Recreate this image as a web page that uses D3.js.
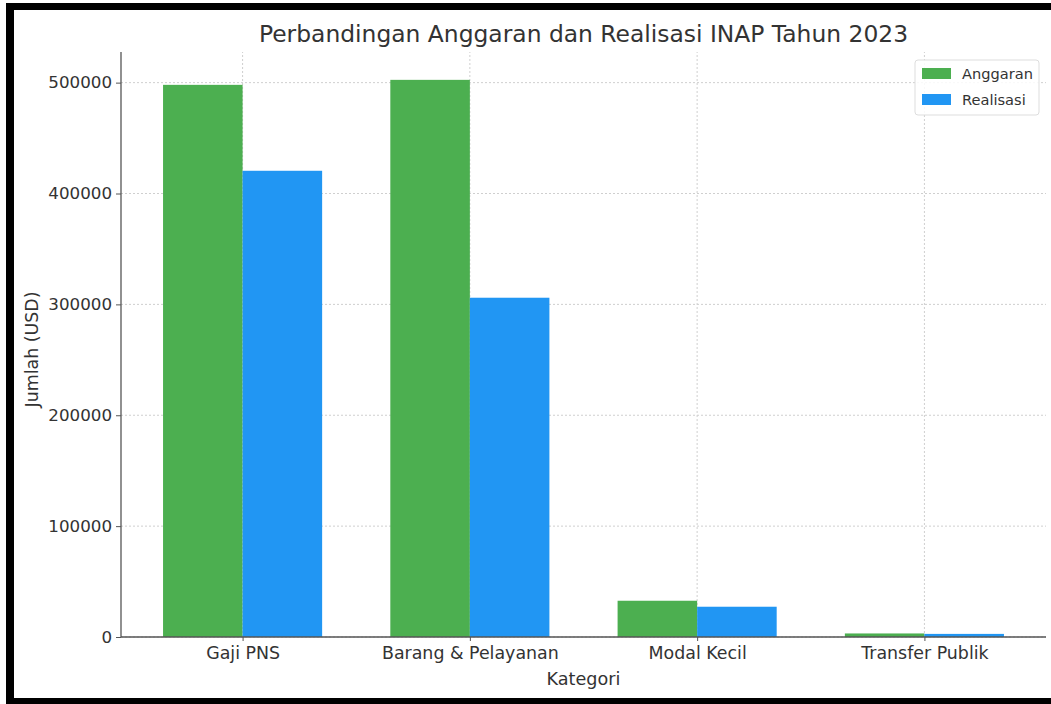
<!DOCTYPE html>
<html>
<head>
<meta charset="utf-8">
<script src="https://cdn.jsdelivr.net/npm/d3@7"></script>
<style>
  html, body { margin: 0; padding: 0; background: #fff; }
  svg { display: block; font-family: "DejaVu Sans", sans-serif; }
</style>
</head>
<body>
<div id="chart"></div>
<script>
  // data
  const categories = ['Gaji PNS', 'Barang & Pelayanan', 'Modal Kecil', 'Transfer Publik'];
  const anggaran = [498000, 502500, 32700, 3200];
  const realisasi = [420500, 306000, 27300, 2800];
  const seriesNames = ['Anggaran', 'Realisasi'];
  const yTicks = [0, 100000, 200000, 300000, 400000, 500000];

  const colors = { Anggaran: '#4caf50', Realisasi: '#2196f3' };

  const width = 1051, height = 704;
  const margin = { top: 52, right: 5, bottom: 67, left: 121 };

  const svg = d3.select('#chart')
    .append('svg')
    .attr('width', width)
    .attr('height', height);

  // black frame round the picture (no right side)
  svg.append('rect').attr('x', 0).attr('y', 0).attr('width', width).attr('height', height).attr('fill', '#fff');
  svg.append('rect').attr('x', 6).attr('y', 3).attr('width', width - 6).attr('height', 7).attr('fill', '#000');
  svg.append('rect').attr('x', 6).attr('y', 3).attr('width', 8).attr('height', height - 3).attr('fill', '#000');
  svg.append('rect').attr('x', 6).attr('y', 698).attr('width', width - 6).attr('height', 6).attr('fill', '#000');

  const idx = d3.range(categories.length);
  const barW = 0.35;
  const maxVal = d3.max(anggaran.concat(realisasi));

  // matplotlib style: 5% margins
  const x = d3.scaleLinear()
    .domain([-barW - 0.185, categories.length - 1 + barW + 0.185])
    .range([margin.left, width - margin.right]);
  const y = d3.scaleLinear()
    .domain([0, maxVal * 1.05])
    .range([height - margin.bottom, margin.top]);

  const g = svg.append('g');

  // grid
  g.append('g')
    .selectAll('line')
    .data(yTicks)
    .join('line')
    .attr('x1', x.range()[0]).attr('x2', x.range()[1])
    .attr('y1', d => y(d)).attr('y2', d => y(d))
    .attr('stroke', '#cfcfcf').attr('stroke-width', 1).attr('stroke-dasharray', '2,2');
  g.append('g')
    .selectAll('line')
    .data(idx)
    .join('line')
    .attr('x1', d => x(d)).attr('x2', d => x(d))
    .attr('y1', y.range()[0]).attr('y2', y.range()[1])
    .attr('stroke', '#cfcfcf').attr('stroke-width', 1).attr('stroke-dasharray', '2,2');

  // bars
  const series = [anggaran, realisasi];
  series.forEach((vals, s) => {
    g.append('g')
      .selectAll('rect')
      .data(vals)
      .join('rect')
      .attr('x', (d, i) => x(i - barW + s * barW))
      .attr('width', x(barW) - x(0))
      .attr('y', d => y(d))
      .attr('height', d => y(0) - y(d))
      .attr('fill', colors[seriesNames[s]]);
  });

  // axes
  const yAxis = d3.axisLeft(y).tickValues(yTicks).tickFormat(d3.format('d')).tickSize(5).tickPadding(4);
  const yg = svg.append('g')
    .attr('transform', `translate(${margin.left},0)`)
    .call(yAxis);
  const xAxis = d3.axisBottom(x).tickValues(idx).tickFormat(i => categories[i]).tickSize(4).tickPadding(6);
  const xg = svg.append('g')
    .attr('transform', `translate(0,${height - margin.bottom})`)
    .call(xAxis);
  [yg, xg].forEach(a => {
    a.select('.domain').attr('stroke', '#555').attr('stroke-width', 1.3);
    a.selectAll('.tick line').attr('stroke', '#555');
    a.selectAll('.tick text').attr('fill', '#333').attr('font-family', '"DejaVu Sans", sans-serif');
  });
  yg.selectAll('.tick text').attr('font-size', 16.7);
  xg.selectAll('.tick text').attr('font-size', 17.4);
  // drop the outer ticks of the domain path
  yg.select('.domain').attr('d', `M0,${y.range()[0]}V${y.range()[1]}`);
  xg.select('.domain').attr('d', `M${x.range()[0]},0H${x.range()[1]}`);

  // title and axis labels
  svg.append('text')
    .attr('x', (x.range()[0] + x.range()[1]) / 2)
    .attr('y', 42)
    .attr('text-anchor', 'middle')
    .attr('font-size', 23.4)
    .attr('fill', '#333')
    .text('Perbandingan Anggaran dan Realisasi INAP Tahun 2023');

  svg.append('text')
    .attr('x', (x.range()[0] + x.range()[1]) / 2)
    .attr('y', 685)
    .attr('text-anchor', 'middle')
    .attr('font-size', 17.6)
    .attr('fill', '#333')
    .text('Kategori');

  svg.append('text')
    .attr('transform', `translate(38,${(y.range()[0] + y.range()[1]) / 2 + 5}) rotate(-90)`)
    .attr('text-anchor', 'middle')
    .attr('font-size', 17.4)
    .attr('fill', '#333')
    .text('Jumlah (USD)');

  // legend
  const lg = svg.append('g').attr('transform', 'translate(915,60)');
  lg.append('rect')
    .attr('width', 124).attr('height', 55).attr('rx', 3)
    .attr('fill', '#fff').attr('fill-opacity', 0.85)
    .attr('stroke', '#ddd');
  seriesNames.forEach((name, i) => {
    lg.append('rect')
      .attr('x', 7).attr('y', 8 + i * 26)
      .attr('width', 29).attr('height', 11)
      .attr('fill', colors[name]);
    lg.append('text')
      .attr('x', 47).attr('y', 19 + i * 26)
      .attr('font-size', 14.6)
      .attr('fill', '#333')
      .text(name);
  });
</script>
</body>
</html>
